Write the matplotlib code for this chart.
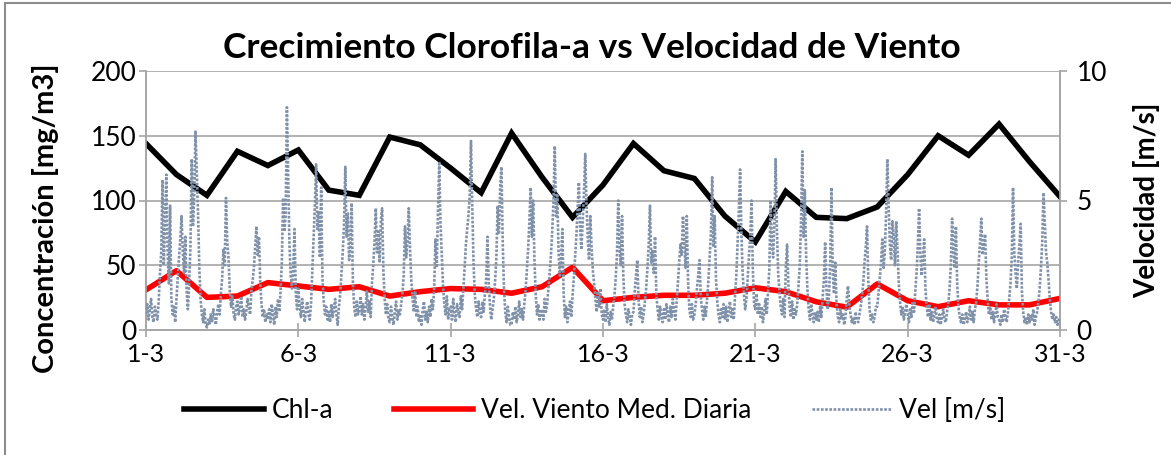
import matplotlib
matplotlib.use("Agg")
import matplotlib.pyplot as plt
from matplotlib.patches import Rectangle
import numpy as np

plt.rcParams['font.family'] = ['Lato', 'DejaVu Sans']

# datos diarios (1 al 31 de marzo)
dias = list(range(1, 32))
chl_a = [144, 120, 104, 138, 127, 139, 108, 104, 149, 143, 125, 106, 152, 118, 87, 112,
         144, 123, 117, 88, 68, 107, 87, 86, 95, 120, 150, 135, 159, 130, 103]
vel_media = [1.55, 2.29, 1.26, 1.31, 1.83, 1.70, 1.57, 1.67, 1.31, 1.48, 1.60, 1.57, 1.42, 1.67, 2.42, 1.13,
             1.26, 1.34, 1.34, 1.42, 1.63, 1.48, 1.09, 0.88, 1.78, 1.13, 0.90, 1.13, 0.97, 0.97, 1.22]

# velocidad horaria [m/s], una fila por dia (0h..23h)
vel_horaria = [
    [0.6, 1.0, 0.4, 0.8, 1.2, 0.5, 0.3, 0.9, 0.6, 0.4, 1.1, 2.2, 3.0, 5.8, 2.5, 4.2, 6.0, 3.1, 1.8, 4.8, 1.2, 0.6, 0.9, 0.3],
    [1.2, 2.0, 2.8, 3.5, 4.4, 3.0, 2.2, 3.6, 1.5, 0.8, 1.8, 3.2, 6.6, 4.0, 5.2, 7.7, 6.1, 4.5, 2.4, 1.2, 0.6, 0.3, 0.8, 0.2],
    [0.1, 0.4, 0.2, 0.6, 0.3, 0.8, 0.5, 0.2, 0.7, 1.0, 0.6, 1.4, 2.0, 3.1, 2.5, 5.1, 3.4, 2.8, 1.5, 0.9, 1.3, 0.6, 0.4, 0.9],
    [1.1, 0.6, 0.9, 1.3, 0.5, 0.8, 0.4, 0.7, 1.2, 0.9, 0.6, 1.5, 1.9, 2.4, 3.2, 4.0, 2.9, 3.6, 1.8, 1.0, 0.5, 0.8, 0.3, 0.6],
    [0.4, 0.8, 0.3, 1.0, 0.6, 0.2, 0.9, 0.5, 1.2, 0.7, 1.5, 2.6, 5.1, 3.8, 4.4, 8.6, 6.0, 3.3, 2.1, 1.6, 2.4, 3.9, 1.4, 0.8],
    [1.6, 0.9, 0.5, 1.2, 0.7, 0.3, 0.8, 1.1, 0.6, 0.4, 1.0, 2.3, 3.5, 4.8, 6.4, 3.9, 4.6, 2.8, 5.5, 2.0, 1.1, 0.6, 0.9, 0.4],
    [0.7, 0.3, 1.0, 0.5, 0.8, 1.2, 0.6, 0.2, 0.9, 1.4, 2.2, 3.0, 4.1, 6.3, 3.6, 4.5, 2.7, 3.3, 4.9, 1.8, 0.9, 0.5, 1.1, 0.6],
    [0.8, 1.3, 0.6, 1.0, 0.4, 0.9, 1.5, 0.7, 1.1, 0.5, 1.8, 2.5, 3.4, 4.7, 3.0, 3.8, 2.6, 4.2, 4.7, 2.3, 1.2, 0.6, 1.0, 0.4],
    [0.3, 0.9, 0.5, 0.2, 0.7, 1.1, 0.4, 0.8, 0.6, 1.0, 1.4, 2.1, 4.0, 2.8, 3.5, 4.7, 3.1, 1.9, 1.2, 0.7, 1.5, 0.5, 0.9, 0.3],
    [0.6, 0.2, 0.8, 1.1, 0.4, 0.7, 0.3, 0.9, 0.5, 1.2, 0.8, 1.6, 3.5, 2.4, 4.6, 6.5, 4.1, 2.9, 1.7, 1.0, 0.6, 1.3, 0.4, 0.8],
    [0.9, 0.4, 1.2, 0.6, 0.3, 1.0, 0.7, 0.5, 1.3, 0.8, 1.6, 2.4, 3.3, 3.9, 4.4, 5.2, 7.3, 4.8, 2.6, 1.4, 0.8, 0.5, 1.1, 0.6],
    [0.5, 1.1, 0.7, 1.4, 2.0, 3.6, 1.8, 0.9, 0.4, 0.8, 1.2, 1.9, 2.8, 4.8, 3.7, 5.5, 6.3, 3.4, 1.6, 0.7, 0.3, 0.9, 0.5, 0.2],
    [0.2, 0.7, 0.4, 0.9, 0.3, 0.6, 1.1, 0.5, 0.8, 0.4, 1.0, 1.5, 2.3, 3.1, 4.2, 5.5, 3.6, 5.0, 2.7, 1.4, 0.6, 1.0, 0.4, 0.7],
    [0.8, 0.4, 1.2, 0.7, 1.0, 1.6, 2.2, 2.9, 3.8, 5.0, 7.1, 4.4, 5.2, 3.0, 2.1, 2.8, 3.9, 1.4, 0.5, 0.9, 0.3, 0.7, 1.1, 0.5],
    [1.3, 2.0, 2.8, 3.6, 4.7, 5.7, 3.9, 3.1, 4.2, 5.3, 6.8, 4.9, 3.5, 2.7, 4.4, 3.2, 2.3, 1.8, 1.2, 0.7, 1.5, 0.9, 1.6, 0.6],
    [0.4, 0.8, 0.3, 1.0, 0.5, 0.2, 0.7, 0.4, 0.9, 1.3, 2.0, 2.9, 5.0, 3.2, 2.5, 4.4, 2.1, 1.0, 0.6, 0.3, 0.8, 0.5, 0.2, 0.6],
    [0.7, 1.5, 2.1, 2.7, 1.2, 0.5, 0.9, 0.3, 0.6, 1.1, 1.6, 2.4, 3.3, 4.8, 2.6, 3.1, 2.2, 3.6, 1.4, 0.8, 0.4, 0.9, 0.5, 0.3],
    [0.8, 0.4, 1.0, 0.6, 0.3, 0.9, 0.5, 1.2, 0.7, 0.4, 1.1, 1.8, 2.6, 3.3, 2.9, 4.4, 3.5, 2.4, 4.4, 1.9, 0.8, 0.5, 1.0, 0.4],
    [0.6, 1.0, 1.6, 2.1, 2.7, 1.3, 0.8, 0.4, 0.9, 0.5, 1.2, 1.9, 2.8, 3.7, 5.9, 3.2, 4.4, 2.0, 1.1, 0.6, 0.3, 0.8, 0.5, 1.0],
    [0.4, 0.9, 0.3, 0.7, 1.1, 0.5, 0.8, 0.4, 1.3, 2.1, 3.4, 4.6, 6.2, 3.8, 2.2, 1.4, 0.8, 1.2, 2.0, 2.9, 3.6, 5.0, 2.4, 1.0],
    [0.8, 1.4, 0.6, 1.0, 0.5, 0.9, 0.3, 0.7, 1.2, 0.6, 1.5, 2.3, 5.0, 3.4, 2.8, 4.1, 6.6, 3.9, 2.2, 1.5, 0.9, 0.6, 1.2, 0.5],
    [2.4, 3.3, 1.8, 0.9, 0.5, 1.1, 0.4, 0.8, 0.6, 1.0, 1.7, 2.5, 4.2, 6.9, 3.6, 5.4, 2.9, 1.6, 0.8, 0.4, 1.0, 0.6, 0.3, 0.7],
    [0.4, 0.7, 0.3, 0.9, 0.5, 1.2, 2.0, 3.4, 1.6, 0.8, 1.3, 2.6, 5.5, 2.2, 1.4, 2.6, 1.0, 0.5, 0.3, 0.8, 0.4, 0.6, 0.2, 0.5],
    [1.2, 1.7, 1.0, 0.6, 0.3, 0.5, 0.2, 0.7, 0.4, 0.3, 0.6, 0.9, 1.3, 1.8, 2.6, 3.2, 4.0, 1.9, 0.8, 0.4, 0.6, 0.3, 0.5, 0.9],
    [0.9, 1.4, 2.0, 2.6, 3.5, 2.4, 3.0, 4.5, 6.6, 4.8, 3.3, 2.7, 4.2, 3.6, 2.5, 4.2, 3.1, 1.8, 1.1, 0.6, 0.9, 0.4, 0.7, 1.0],
    [0.6, 0.3, 0.8, 0.5, 1.1, 0.7, 1.5, 2.2, 3.3, 4.7, 2.9, 2.1, 2.8, 3.5, 1.6, 0.9, 0.5, 1.0, 0.4, 0.7, 0.3, 0.6, 0.9, 0.4],
    [0.3, 0.6, 0.2, 0.5, 0.8, 0.4, 0.3, 0.7, 1.0, 1.6, 2.5, 4.3, 3.1, 2.4, 4.0, 1.8, 0.9, 0.5, 0.3, 0.6, 0.2, 0.4, 0.7, 0.3],
    [0.5, 0.9, 0.4, 0.7, 0.3, 0.8, 1.1, 1.7, 2.6, 3.4, 4.3, 2.9, 3.2, 3.7, 2.0, 1.2, 0.6, 0.9, 0.4, 0.7, 0.3, 0.6, 1.0, 0.5],
    [0.4, 0.2, 0.6, 0.3, 0.8, 0.5, 0.3, 0.7, 1.2, 1.8, 2.8, 5.5, 3.0, 2.2, 1.6, 2.6, 3.3, 4.1, 1.5, 0.7, 0.3, 0.5, 0.2, 0.6],
    [0.3, 0.6, 0.4, 0.8, 0.2, 0.5, 0.7, 1.1, 1.6, 2.4, 3.4, 5.3, 4.1, 3.0, 2.6, 1.9, 1.2, 0.7, 0.4, 0.6, 0.3, 0.5, 0.2, 0.4],
]
vel_final = 0.3  # 31-3 00h

etiquetas = ["1-3", "6-3", "11-3", "16-3", "21-3", "26-3", "31-3"]

# serie horaria con su tiempo en dias
t_hor = [d + h / 24 for d, fila in zip(dias, vel_horaria) for h in range(len(fila))] + [dias[-1]]
v_hor = [v for fila in vel_horaria for v in fila] + [vel_final]

fig = plt.figure(figsize=(11.71, 4.55), dpi=100)
fig.patches.append(Rectangle((5 / 1171, -0.1), 1.2, 1.1 - 3 / 455, transform=fig.transFigure,
                             fill=False, edgecolor="#8c8c8c", lw=1.5))

ax = fig.add_axes([146 / 1171, 1 - 330 / 455, 914 / 1171, 259 / 455])
ax2 = ax.twinx()

l1, = ax.plot(dias, chl_a, color="black", lw=4.0, solid_joinstyle="miter", label="Chl-a", zorder=3)
l2, = ax2.plot(dias, vel_media, color="#ff0000", lw=4.0, label="Vel. Viento Med. Diaria", zorder=2)
l3, = ax2.plot(t_hor, v_hor, color="#8091aa", lw=1.9, ls=(0, (1, 0.6)), label="Vel [m/s]", zorder=3)

ax.set_xlim(1, 31)
ax.set_ylim(0, 200)
ax2.set_ylim(0, 10)
ax.set_xticks(dias[::5])
ax.set_xticklabels(etiquetas)
ax.set_yticks([0, 50, 100, 150, 200])
ax2.set_yticks([0, 5, 10])
ax.yaxis.grid(True, color="#a6a6a6", lw=1.2)
ax.set_axisbelow(True)

for a in (ax, ax2):
    for s in a.spines.values():
        s.set_color("#a6a6a6")
        s.set_linewidth(1.2)
    a.spines["top"].set_visible(False)
    a.tick_params(colors="#a6a6a6", labelcolor="black", labelsize=19, length=5, width=1.2)
ax.tick_params(axis="x", direction="inout", length=10, pad=4, labelsize=18)
ax.tick_params(axis="y", pad=2)
ax2.tick_params(axis="y", pad=7)

ax.set_ylabel("Concentración [mg/m3]", fontsize=21, fontweight="bold")
ax.yaxis.set_label_coords(-0.095, 0.43)
ax2.set_ylabel("Velocidad [m/s]", fontsize=20, fontweight="bold", labelpad=19)
fig.text(0.505, 0.895, "Crecimiento Clorofila-a vs Velocidad de Viento", ha="center", va="center",
         fontsize=25.5, fontweight="bold")

fig.legend(handles=[l1, l2, l3], loc="center", bbox_to_anchor=(0.508, 0.097), ncol=3, frameon=False,
           fontsize=19, handlelength=3.0, columnspacing=2.3, handletextpad=0.3)

fig.savefig("out.png", dpi=100)
